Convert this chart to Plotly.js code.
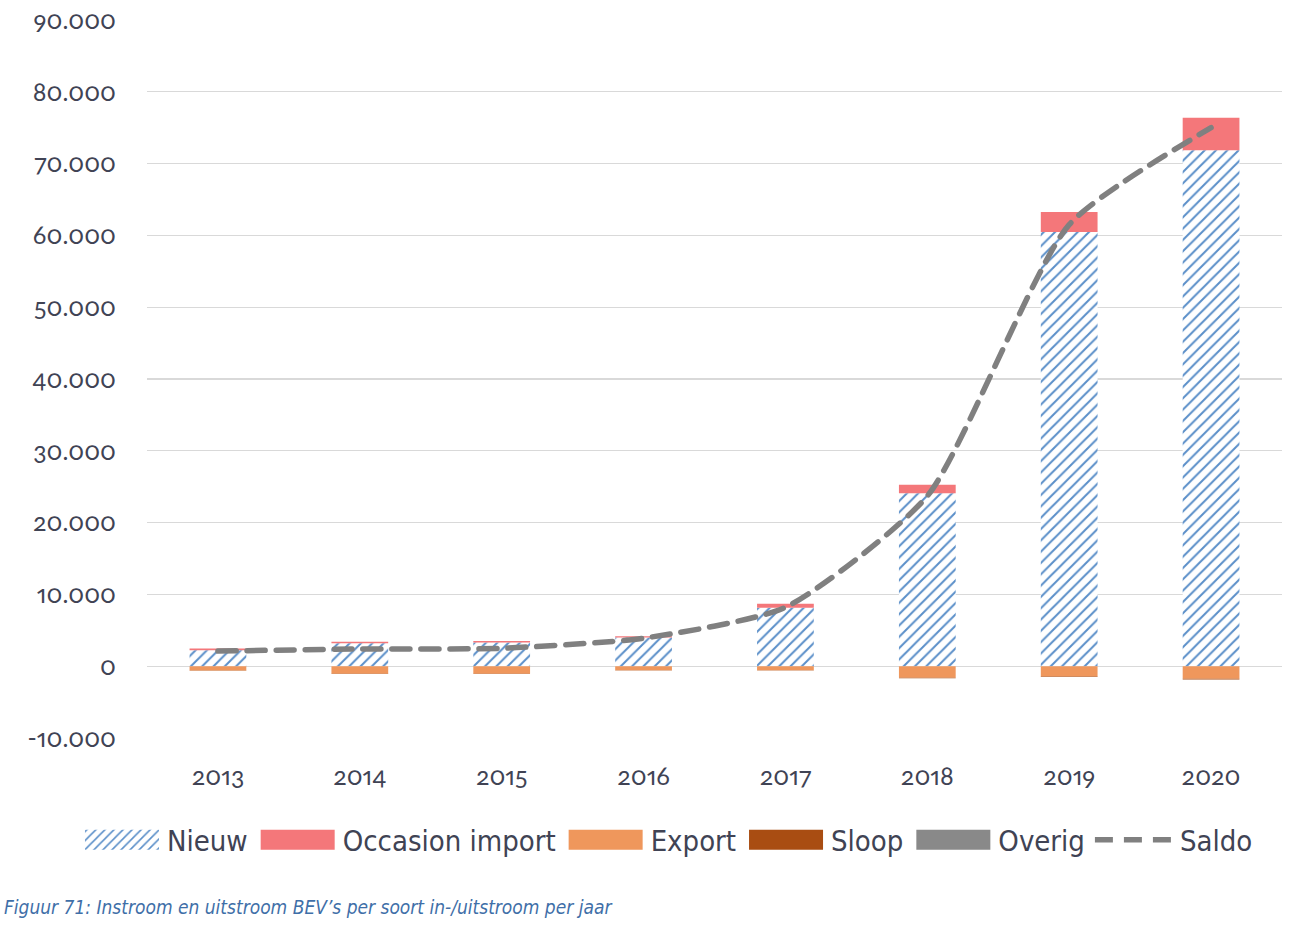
<!DOCTYPE html>
<html>
<head>
<meta charset="utf-8">
<script src="https://cdn.plot.ly/plotly-3.0.1.min.js"></script>
<style>
  html, body { margin: 0; padding: 0; background: #fff; }
  #chart { width: 1299px; height: 926px; }
  .main-svg text { font-feature-settings: "onum" 1, "pnum" 1; }
  .scatterlayer path.js-line { stroke-linecap: round; }
</style>
</head>
<body>
<div id="chart"></div>
<script>
// ---- data ----
const years = ['2013', '2014', '2015', '2016', '2017', '2018', '2019', '2020'];
const nieuw = [2230, 3200, 3300, 3990, 8150, 24100, 60460, 71850];
const occasionImport = [240, 200, 200, 180, 560, 1170, 2790, 4550];
const exportV = [-600, -1060, -1060, -560, -560, -1620, -1430, -1760];
const sloop = [-20, -30, -30, -40, -50, -60, -80, -100];
const overig = [0, 0, 0, 0, 0, 0, 0, 0];
const saldo = [2100, 2400, 2500, 3900, 8200, 23700, 61500, 75000];
const yTickVals = [-10000, 0, 10000, 20000, 30000, 40000, 50000, 60000, 70000, 80000, 90000];
const yTickText = ['-10.000', '0', '10.000', '20.000', '30.000', '40.000', '50.000', '60.000', '70.000', '80.000', '90.000'];
const caption = 'Figuur 71: Instroom en uitstroom BEV’s per soort in-/uitstroom per jaar';

const textColor = '#404354';
const tickFont = { family: 'Lato, "Open Sans", sans-serif', size: 25, color: textColor };

const barW = 0.4;
const traces = [
  { type: 'bar', name: 'Nieuw', x: years, y: nieuw, width: barW,
    marker: { color: '#ffffff', line: { width: 0 },
      pattern: { shape: '/', fgcolor: '#5b8fc9', bgcolor: '#ffffff', size: 8, solidity: 0.25 } } },
  { type: 'bar', name: 'Occasion import', x: years, y: occasionImport, width: barW,
    marker: { color: '#f4777a', line: { width: 0 } } },
  { type: 'bar', name: 'Export', x: years, y: exportV, width: barW,
    marker: { color: '#ef975c', line: { width: 0 } } },
  { type: 'bar', name: 'Sloop', x: years, y: sloop, width: barW,
    marker: { color: '#a94d12', line: { width: 0 } } },
  { type: 'bar', name: 'Overig', x: years, y: overig, width: barW,
    marker: { color: '#898989', line: { width: 0 } } },
  { type: 'scatter', mode: 'lines', name: 'Saldo', x: years, y: saldo,
    line: { color: '#808080', width: 5.5, dash: '18px,11px', shape: 'spline', smoothing: 0.6 } }
];

const layout = {
  width: 1299, height: 926,
  margin: { l: 147, r: 17, t: 20, b: 188 },
  paper_bgcolor: '#ffffff', plot_bgcolor: '#ffffff',
  barmode: 'relative',
  separators: ',.',
  showlegend: true,
  legend: {
    orientation: 'h', x: -0.0617, xanchor: 'left', y: -0.142, yanchor: 'middle',
    font: { family: '"Liberation Sans Narrow", "DejaVu Sans Condensed", sans-serif', size: 29, color: textColor },
    itemwidth: 80, traceorder: 'normal', tracegroupgap: 0, bgcolor: 'rgba(0,0,0,0)'
  },
  xaxis: {
    type: 'category', tickfont: tickFont, showgrid: false, zeroline: false,
    showline: false, ticks: '', ticklabelstandoff: 21
  },
  yaxis: {
    range: [-10000, 90000], tickvals: yTickVals, ticktext: yTickText,
    tickfont: tickFont, showgrid: true, gridcolor: '#d9d9d9', gridwidth: 1.3,
    zeroline: true, zerolinecolor: '#d9d9d9', zerolinewidth: 1.3,
    showline: false, ticks: '', ticklabelstandoff: 30
  },
  annotations: [
    { text: caption, xref: 'paper', yref: 'paper', x: -0.128, y: -0.235,
      xanchor: 'left', yanchor: 'middle', showarrow: false,
      font: { family: '"Liberation Sans Narrow", "DejaVu Sans Condensed", sans-serif', size: 19, color: '#3f6fa8', style: 'italic' } }
  ]
};

function widenSwatches() {
  document.querySelectorAll('#chart .legend .legendpoints path').forEach(function (p) {
    const d = p.getAttribute('d') || '';
    if (d.indexOf('M6,6H-6V-6H6Z') === 0 || p.classList.contains('legendbar')) {
      p.setAttribute('d', 'M37,10H-37V-10H37Z');
    }
  });
}

Plotly.newPlot('chart', traces, layout, { displayModeBar: false, staticPlot: true }).then(function (gd) {
  widenSwatches();
  gd.on && gd.on('plotly_afterplot', widenSwatches);
  setTimeout(widenSwatches, 0);
  setTimeout(widenSwatches, 150);
  setTimeout(widenSwatches, 500);
});
</script>
</body>
</html>
